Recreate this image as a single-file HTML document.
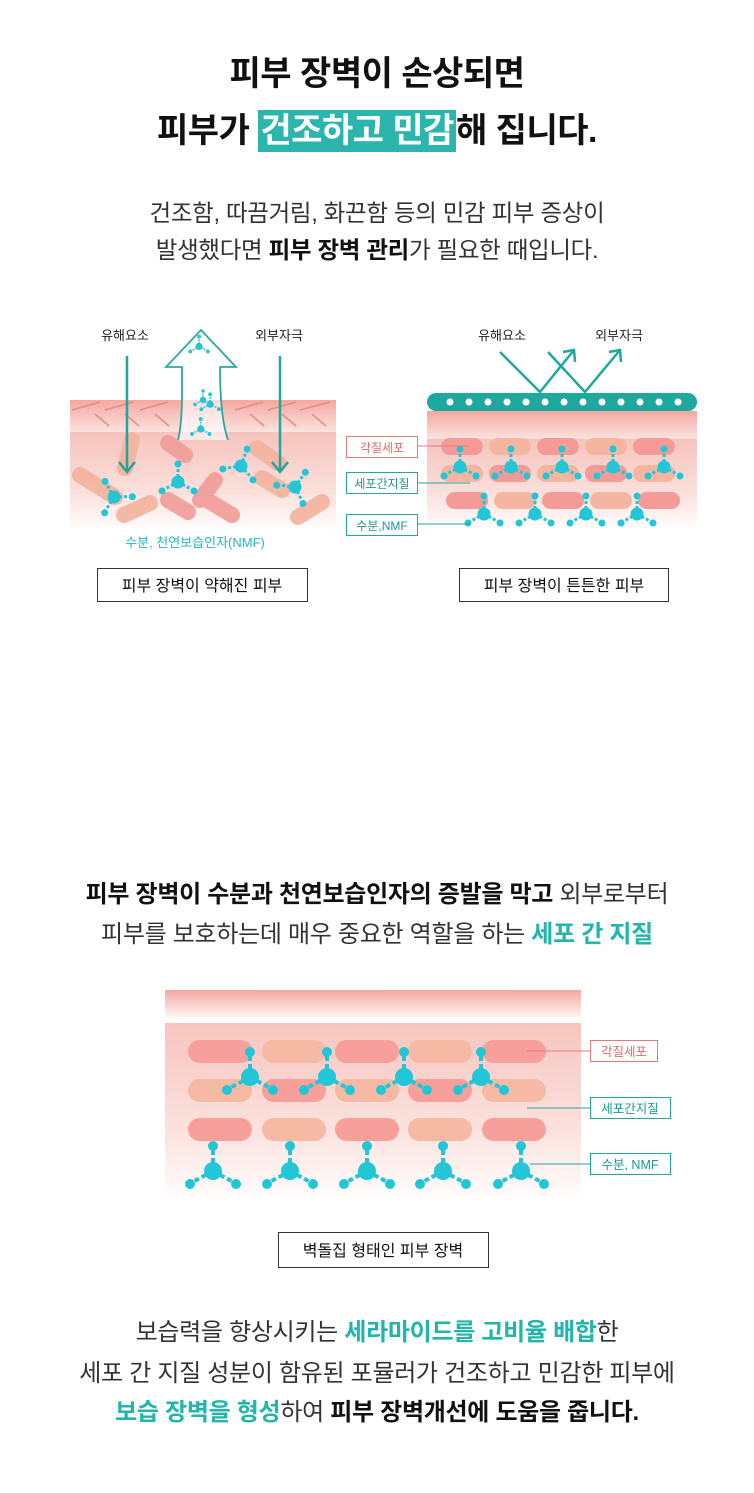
<!DOCTYPE html>
<html><head><meta charset="utf-8">
<style>
*{margin:0;padding:0;box-sizing:border-box}
body{width:754px;height:1493px;background:#fff;position:relative;overflow:hidden;font-family:"Liberation Sans","Noto Sans CJK KR",sans-serif;color:#222}
.c{position:absolute;left:0;width:754px;text-align:center;white-space:nowrap}
.t{font-size:34px;font-weight:bold;color:#111;letter-spacing:-0.5px}
.s{font-size:23.5px;color:#333;letter-spacing:-0.3px}
.s2{font-size:24px;color:#333;letter-spacing:-0.3px}
.hl{background:#2bb5ad;color:#fff;padding:0 2px;display:inline-block;line-height:42px}
.tl{color:#21b5ac;font-weight:bold}
b{color:#111}
svg{position:absolute;left:0;top:0}
</style></head><body>
<svg width="754" height="1493" viewBox="0 0 754 1493" font-family="Liberation Sans, Noto Sans CJK KR, sans-serif">
<defs>
<linearGradient id="band" x1="0" y1="0" x2="0" y2="1"><stop offset="0" stop-color="#f3a8a0"/><stop offset="1" stop-color="#fbe3df"/></linearGradient>
<linearGradient id="low" x1="0" y1="0" x2="0" y2="1"><stop offset="0" stop-color="#f6c3bd"/><stop offset="0.6" stop-color="#fbe0dc"/><stop offset="1" stop-color="#fff"/></linearGradient>
<linearGradient id="top2" x1="0" y1="0" x2="0" y2="1"><stop offset="0" stop-color="#f4a7a0"/><stop offset="1" stop-color="#fff"/></linearGradient>
<linearGradient id="main2" x1="0" y1="0" x2="0" y2="1"><stop offset="0" stop-color="#f7c4bf"/><stop offset="0.6" stop-color="#fbe2de"/><stop offset="1" stop-color="#fff"/></linearGradient>
<g id="m"><g fill="#22c6d6" stroke="#22c6d6"><line x1="0" y1="0" x2="0" y2="-24" stroke-width="4" stroke-dasharray="5 3"/><line x1="0" y1="0" x2="-22" y2="12" stroke-width="4" stroke-dasharray="5 3"/><line x1="0" y1="0" x2="22" y2="12" stroke-width="4" stroke-dasharray="5 3"/><circle r="9" stroke="none"/><circle cy="-25" r="5" stroke="none"/><circle cx="-23" cy="13" r="5" stroke="none"/><circle cx="23" cy="13" r="5" stroke="none"/></g></g>
<g id="ms"><g fill="#22c6d6" stroke="#22c6d6"><line x1="0" y1="0" x2="0" y2="-17" stroke-width="3" stroke-dasharray="3 2"/><line x1="0" y1="0" x2="-15" y2="8" stroke-width="3" stroke-dasharray="3 2"/><line x1="0" y1="0" x2="15" y2="8" stroke-width="3" stroke-dasharray="3 2"/><circle r="6.5" stroke="none"/><circle cy="-18" r="3.5" stroke="none"/><circle cx="-16" cy="9" r="3.5" stroke="none"/><circle cx="16" cy="9" r="3.5" stroke="none"/></g></g>
</defs>

<!-- Left diagram -->
<rect x="70" y="400" width="266" height="32" fill="url(#band)"/>
<g stroke="#e98a84" stroke-width="1.5" fill="none">
<path d="M72 410 l28 -8 M105 410 l28 -8 M140 410 l28 -8 M235 410 l28 -8 M268 410 l28 -8 M300 410 l30 -8"/>
<path d="M95 414 l14 12 M125 414 l14 12 M155 414 l14 12 M250 414 l14 12 M282 414 l14 12 M312 414 l14 12"/>
</g>
<rect x="70" y="432" width="266" height="100" fill="url(#low)"/>
<g stroke-linecap="round" stroke-width="16" opacity="0.9">
<line x1="125" y1="468" x2="132" y2="440" stroke="#f4b39e"/>
<line x1="80" y1="475" x2="115" y2="497" stroke="#f4b39e"/>
<line x1="124" y1="515" x2="150" y2="503" stroke="#f4b39e"/>
<line x1="168" y1="443" x2="185" y2="455" stroke="#f29c98"/>
<line x1="168" y1="500" x2="188" y2="512" stroke="#f29c98"/>
<line x1="215" y1="480" x2="200" y2="500" stroke="#f29c98"/>
<line x1="207" y1="500" x2="232" y2="515" stroke="#f29c98"/>
<line x1="257" y1="448" x2="278" y2="463" stroke="#f4b39e"/>
<line x1="262" y1="478" x2="282" y2="490" stroke="#f4b39e"/>
<line x1="298" y1="517" x2="322" y2="502" stroke="#f4b39e"/>
</g>
<use href="#ms" transform="translate(114,497) rotate(-30)"/>
<use href="#ms" transform="translate(178,482)"/>
<use href="#ms" transform="translate(241,466) rotate(20)"/>
<use href="#ms" transform="translate(295,487) rotate(35)"/>
<path d="M178 440 C183 420 182 390 182 367 L166 367 L201 330 L236 367 L220 367 C220 390 221 420 228 440" fill="#fff" fill-opacity="0.6" stroke="#2aa9a0" stroke-width="1.8"/>
<g transform="scale(0.55)"><use href="#ms" transform="translate(362,630)"/><use href="#ms" transform="translate(382,735)"/><use href="#ms" transform="translate(365,780)"/></g>
<use href="#ms" transform="translate(203,400) scale(0.5)"/>
<g stroke="#21a59c" stroke-width="2.5" fill="none">
<line x1="127" y1="356" x2="127" y2="472"/><path d="M119 462 L127 472 L135 462"/>
<line x1="280" y1="356" x2="280" y2="472"/><path d="M272 462 L280 472 L288 462"/>
</g>
<text x="125" y="340" font-size="13" text-anchor="middle" fill="#222">유해요소</text>
<text x="279" y="340" font-size="13" text-anchor="middle" fill="#222">외부자극</text>
<text x="195" y="547" font-size="13" text-anchor="middle" fill="#22b8c4">수분, 천연보습인자(NMF)</text>
<rect x="97.5" y="568.5" width="210" height="33" fill="#fff" stroke="#333"/>
<text x="202" y="591" font-size="16" text-anchor="middle" fill="#111">피부 장벽이 약해진 피부</text>

<!-- Right diagram -->
<rect x="427" y="411" width="270" height="28" fill="url(#band)"/>
<rect x="427" y="439" width="270" height="92" fill="url(#low)"/>
<g>
<rect x="441" y="438" width="42" height="17" rx="8.5" fill="#f49b98"/><rect x="489" y="438" width="42" height="17" rx="8.5" fill="#f4b6a0"/><rect x="537" y="438" width="42" height="17" rx="8.5" fill="#f49b98"/><rect x="585" y="438" width="42" height="17" rx="8.5" fill="#f4b6a0"/><rect x="633" y="438" width="42" height="17" rx="8.5" fill="#f49b98"/>
<rect x="441" y="465" width="42" height="17" rx="8.5" fill="#f4b6a0"/><rect x="489" y="465" width="42" height="17" rx="8.5" fill="#f49b98"/><rect x="537" y="465" width="42" height="17" rx="8.5" fill="#f4b6a0"/><rect x="585" y="465" width="42" height="17" rx="8.5" fill="#f49b98"/><rect x="633" y="465" width="42" height="17" rx="8.5" fill="#f4b6a0"/>
<rect x="446" y="492" width="42" height="17" rx="8.5" fill="#f49b98"/><rect x="494" y="492" width="42" height="17" rx="8.5" fill="#f4b6a0"/><rect x="542" y="492" width="42" height="17" rx="8.5" fill="#f49b98"/><rect x="590" y="492" width="42" height="17" rx="8.5" fill="#f4b6a0"/><rect x="638" y="492" width="42" height="17" rx="8.5" fill="#f49b98"/>
</g>
<use href="#ms" transform="translate(460,467)"/><use href="#ms" transform="translate(511,467)"/><use href="#ms" transform="translate(562,467)"/><use href="#ms" transform="translate(613,467)"/><use href="#ms" transform="translate(664,467)"/>
<use href="#ms" transform="translate(484,514)"/><use href="#ms" transform="translate(535,514)"/><use href="#ms" transform="translate(586,514)"/><use href="#ms" transform="translate(637,514)"/>
<rect x="427" y="393" width="270" height="18" rx="9" fill="#1fa89e"/>
<g fill="#fff"><circle cx="450" cy="402" r="3.5"/><circle cx="469" cy="402" r="3.5"/><circle cx="488" cy="402" r="3.5"/><circle cx="507" cy="402" r="3.5"/><circle cx="526" cy="402" r="3.5"/><circle cx="545" cy="402" r="3.5"/><circle cx="564" cy="402" r="3.5"/><circle cx="583" cy="402" r="3.5"/><circle cx="602" cy="402" r="3.5"/><circle cx="621" cy="402" r="3.5"/><circle cx="640" cy="402" r="3.5"/><circle cx="659" cy="402" r="3.5"/><circle cx="678" cy="402" r="3.5"/></g>
<g stroke="#1fa89e" stroke-width="2.5" fill="none">
<path d="M500 352 L540 392 L574 350"/><path d="M563 352 L574 350 L575 362"/>
<path d="M548 352 L585 392 L620 350"/><path d="M609 352 L620 350 L621 362"/>
</g>
<text x="502" y="340" font-size="13" text-anchor="middle" fill="#222">유해요소</text>
<text x="619" y="340" font-size="13" text-anchor="middle" fill="#222">외부자극</text>
<g font-size="12" text-anchor="middle">
<line x1="418" y1="446" x2="470" y2="446" stroke="#e77a78"/><rect x="346.5" y="436.5" width="71" height="21" fill="#fff" stroke="#e77a78"/><text x="382" y="452" fill="#e06a68">각질세포</text>
<line x1="418" y1="483" x2="470" y2="483" stroke="#1fa89e"/><rect x="346.5" y="472.5" width="71" height="21" fill="#fff" stroke="#1fa89e"/><text x="382" y="488" fill="#1a9990">세포간지질</text>
<line x1="418" y1="524" x2="470" y2="524" stroke="#1fa89e"/><rect x="346.5" y="514.5" width="71" height="21" fill="#fff" stroke="#1fa89e"/><text x="382" y="530" fill="#1a9990">수분,NMF</text>
</g>
<rect x="459.5" y="568.5" width="209" height="33" fill="#fff" stroke="#333"/>
<text x="564" y="591" font-size="16" text-anchor="middle" fill="#111">피부 장벽이 튼튼한 피부</text>

<!-- Diagram 2 -->
<rect x="165" y="990" width="416" height="30" fill="url(#top2)"/>
<rect x="165" y="1023" width="416" height="180" fill="url(#main2)"/>
<g>
<rect x="188" y="1040" width="64" height="23" rx="11.5" fill="#f79f9b"/><rect x="262" y="1040" width="64" height="23" rx="11.5" fill="#f6b9a3"/><rect x="335" y="1040" width="64" height="23" rx="11.5" fill="#f79f9b"/><rect x="408" y="1040" width="64" height="23" rx="11.5" fill="#f6b9a3"/><rect x="482" y="1040" width="64" height="23" rx="11.5" fill="#f79f9b"/>
<rect x="188" y="1079" width="64" height="23" rx="11.5" fill="#f6b9a3"/><rect x="262" y="1079" width="64" height="23" rx="11.5" fill="#f79f9b"/><rect x="335" y="1079" width="64" height="23" rx="11.5" fill="#f6b9a3"/><rect x="408" y="1079" width="64" height="23" rx="11.5" fill="#f79f9b"/><rect x="482" y="1079" width="64" height="23" rx="11.5" fill="#f6b9a3"/>
<rect x="188" y="1118" width="64" height="23" rx="11.5" fill="#f79f9b"/><rect x="262" y="1118" width="64" height="23" rx="11.5" fill="#f6b9a3"/><rect x="335" y="1118" width="64" height="23" rx="11.5" fill="#f79f9b"/><rect x="408" y="1118" width="64" height="23" rx="11.5" fill="#f6b9a3"/><rect x="482" y="1118" width="64" height="23" rx="11.5" fill="#f79f9b"/>
</g>
<use href="#m" transform="translate(250,1077)"/><use href="#m" transform="translate(327,1077)"/><use href="#m" transform="translate(404,1077)"/><use href="#m" transform="translate(481,1077)"/>
<use href="#m" transform="translate(213,1171)"/><use href="#m" transform="translate(290,1171)"/><use href="#m" transform="translate(367,1171)"/><use href="#m" transform="translate(443,1171)"/><use href="#m" transform="translate(521,1171)"/>
<g font-size="12.5" text-anchor="middle">
<line x1="527" y1="1051" x2="590" y2="1051" stroke="#e77a78"/><rect x="590.5" y="1040.5" width="67" height="21" fill="#fff" stroke="#e77a78"/><text x="624" y="1056" fill="#e06a68">각질세포</text>
<line x1="527" y1="1108" x2="590" y2="1108" stroke="#1fa89e"/><rect x="590.5" y="1097.5" width="80" height="21" fill="#fff" stroke="#1fa89e"/><text x="630" y="1113" fill="#1a9990">세포간지질</text>
<line x1="530" y1="1164" x2="590" y2="1164" stroke="#1fa89e"/><rect x="590.5" y="1153.5" width="80" height="21" fill="#fff" stroke="#1fa89e"/><text x="630" y="1169" fill="#1a9990">수분, NMF</text>
</g>
<rect x="278.5" y="1232.5" width="210" height="35" fill="#fff" stroke="#333"/>
<text x="383" y="1256" font-size="16" text-anchor="middle" fill="#111">벽돌집 형태인 피부 장벽</text>
</svg>

<div class="c t" style="top:54px;line-height:40px">피부 장벽이 손상되면</div>
<div class="c t" style="top:110px;line-height:42px">피부가 <span class="hl">건조하고 민감</span>해 집니다.</div>
<div class="c s" style="top:198px;line-height:30px">건조함, 따끔거림, 화끈함 등의 민감 피부 증상이</div>
<div class="c s" style="top:235px;line-height:30px">발생했다면 <b>피부 장벽 관리</b>가 필요한 때입니다.</div>

<div class="c s2" style="top:880px;line-height:30px"><b>피부 장벽이 수분과 천연보습인자의 증발을 막고</b> 외부로부터</div>
<div class="c s2" style="top:920px;line-height:30px">피부를 보호하는데 매우 중요한 역할을 하는 <span class="tl">세포 간 지질</span></div>

<div class="c s2" style="top:1318px;line-height:30px">보습력을 향상시키는 <span class="tl">세라마이드를 고비율 배합</span>한</div>
<div class="c s2" style="top:1359px;line-height:30px">세포 간 지질 성분이 함유된 포뮬러가 건조하고 민감한 피부에</div>
<div class="c s2" style="top:1398px;line-height:30px"><span class="tl">보습 장벽을 형성</span>하여 <b>피부 장벽개선에 도움을 줍니다.</b></div>
</body></html>
